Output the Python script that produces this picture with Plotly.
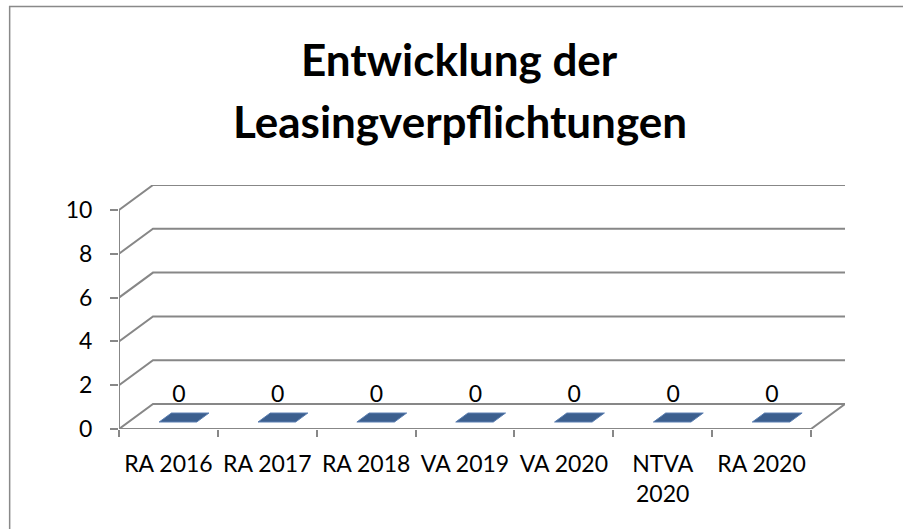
import plotly.graph_objects as go

categories = ["RA 2016", "RA 2017", "RA 2018", "VA 2019", "VA 2020", "NTVA<br>2020", "RA 2020"]
values = [0, 0, 0, 0, 0, 0, 0]
y_ticks = [0, 2, 4, 6, 8, 10]
title_lines = ["Entwicklung der", "Leasingverpflichtungen"]

# 3D projection constants (depth offset in data units)
DX = 0.344
DY = 1.14
BAR_HALF = 0.19
F1, F2 = 0.28, 0.64
GRID = "#878787"
FONT = "Lato"

n = len(categories)
xs = list(range(n))
x_lo, x_hi = -0.5, n - 0.5

fig = go.Figure()

# gridlines on the back wall with diagonal connectors to the front axis
gx, gy = [], []
for v in y_ticks:
    gx += [x_lo, x_lo + DX, x_hi + DX, None]
    gy += [v, v + DY, v + DY, None]
# front value axis line
gx += [x_lo, x_lo, None]
gy += [y_ticks[0], y_ticks[-1], None]
# floor front edge and right edge
gx += [x_lo, x_hi, x_hi + DX, None]
gy += [0, 0, DY, None]
fig.add_trace(go.Scatter(x=gx, y=gy, mode="lines", line=dict(color=GRID, width=2),
                         hoverinfo="skip", showlegend=False))

# flat bars (value 0) drawn as parallelograms on the floor
for c, v in zip(xs, values):
    px = [c - BAR_HALF + F1 * DX, c + BAR_HALF + F1 * DX, c + BAR_HALF + F2 * DX,
          c - BAR_HALF + F2 * DX, c - BAR_HALF + F1 * DX]
    py = [v + F1 * DY, v + F1 * DY, v + F2 * DY, v + F2 * DY, v + F1 * DY]
    fig.add_trace(go.Scatter(x=px, y=py, mode="lines", fill="toself",
                             fillcolor="#3C5F8E", line=dict(color="#5B7FB2", width=1),
                             hoverinfo="skip", showlegend=False))

# data labels
fig.add_trace(go.Scatter(x=[c + 0.105 for c in xs], y=[v + 1.5 for v in values],
                         mode="text", text=[str(v) for v in values],
                         textfont=dict(family=FONT, size=23, color="black"),
                         textposition="middle center", hoverinfo="skip", showlegend=False))

L, R, T, B = 119.3, 58, 184.8, 99.7
W, H = 903, 529
pw, ph = W - L - R, H - T - B

fig.update_layout(
    width=W, height=H,
    margin=dict(l=L, r=R, t=T, b=B, pad=0),
    paper_bgcolor="white", plot_bgcolor="white",
    showlegend=False,
    xaxis=dict(range=[x_lo, x_hi + DX], showgrid=False, zeroline=False, showline=False,
               tickmode="array", tickvals=xs, ticktext=categories, ticks="",
               tickfont=dict(family=FONT, size=23, color="black"),
               ticklabelstandoff=19,
               minor=dict(tickmode="array", tickvals=[i - 0.5 for i in range(n + 1)],
                          ticks="outside", ticklen=7, tickwidth=2, tickcolor=GRID,
                          showgrid=False),
               fixedrange=True),
    yaxis=dict(range=[0, y_ticks[-1] + DY], showgrid=False, zeroline=False, showline=False,
               tickmode="array", tickvals=y_ticks, ticktext=[str(t) for t in y_ticks],
               ticks="outside", ticklen=8, tickwidth=2, tickcolor=GRID,
               tickfont=dict(family=FONT, size=23, color="black"),
               ticklabelstandoff=13, fixedrange=True),
    font=dict(family=FONT),
)

# chart border
fig.add_shape(type="rect", xref="paper", yref="paper",
              x0=(10 - L) / pw, x1=(W + 5 - L) / pw,
              y0=-1.0, y1=(H - B - 6) / ph,
              line=dict(color="#898989", width=1.5), fillcolor="rgba(0,0,0,0)")

# title lines
for i, (line, ymid) in enumerate(zip(title_lines, [59, 121])):
    fig.add_annotation(text="<b>%s</b>" % line, xref="paper", yref="paper",
                       x=(460 - L) / pw, y=(H - B - ymid) / ph,
                       xanchor="center", yanchor="middle", showarrow=False,
                       font=dict(family=FONT, size=44, color="black"))

fig.write_html("out.html", config={"displayModeBar": False},
               post_script="document.body.style.margin='0';document.body.style.overflow='hidden';")
